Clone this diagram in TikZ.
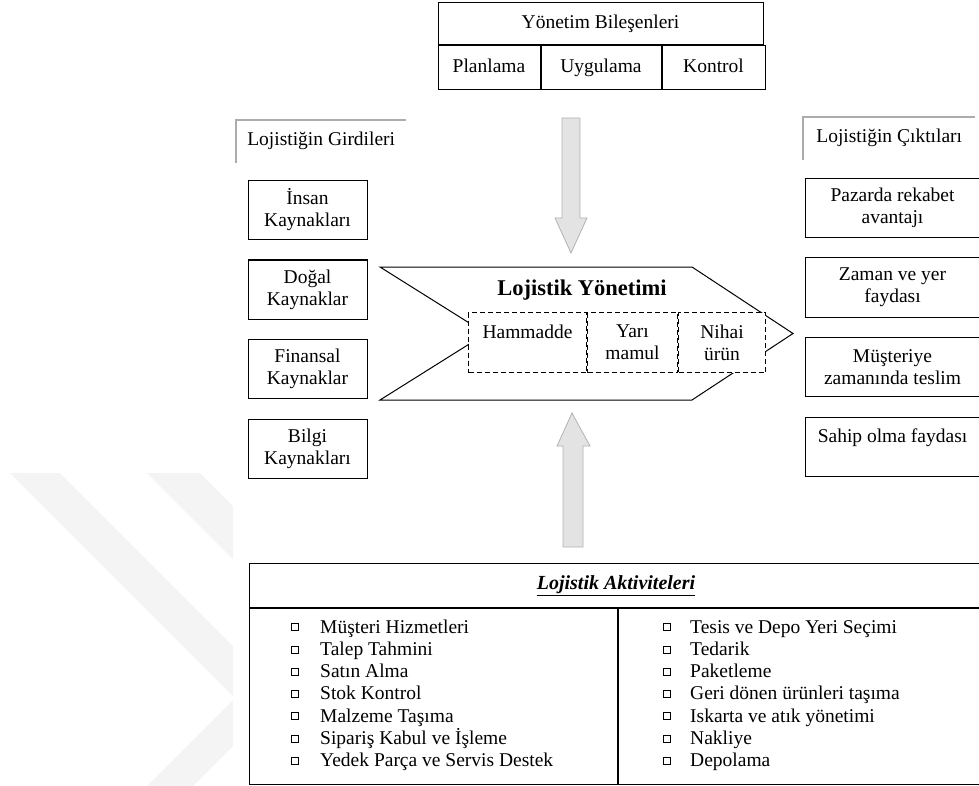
\documentclass[tikz,border=0pt]{standalone}
\usepackage{fontspec}
\setmainfont{Liberation Serif}
\usetikzlibrary{positioning}

\begin{document}
\begin{tikzpicture}[
    x = 1pt, y = -1pt,
    node distance = 19.5pt and 0pt,
    font = \fontsize{19.5}{22}\selectfont,
    kutu/.style = {rectangle, draw, line width=1pt, align=center, inner sep=2pt},
    tek/.style = {text height=13pt, text depth=4.5pt},
    girdi/.style = {kutu, minimum width=119pt, minimum height=59pt},
    cikti/.style = {kutu, minimum width=175pt, minimum height=59pt},
    kesik/.style = {kutu, dash pattern=on 5pt off 3pt, fill=white, minimum height=60pt},
    baslik/.style = {rectangle, anchor=north west, minimum width=170pt, minimum height=43pt},
    cerceve/.style = {gray!65, line width=2.5pt},
    ok/.style = {fill=gray!22, draw=gray!60, line width=0.8pt},
    kare/.style = {draw, line width=0.6pt, minimum size=7pt, inner sep=0pt},
    madde/.style = {anchor=base west, inner sep=0pt}
    ]

  \useasboundingbox (0,0) rectangle (979,786) ;

  % arka plan filigrani
  \begin{scope}
    \clip (0,0) rectangle (233,786) ;
    \fill[gray!9] (10,473) -- (60,473) -- (283,696) -- (193,786) -- (147,786) -- (235,698) -- cycle ;
    \fill[gray!9] (147,473) -- (200,473) -- (420,693) -- (367,693) -- cycle ;
  \end{scope}

  % yonetim bilesenleri
  \node[kutu, tek, minimum width=325pt, minimum height=42pt] (yonetim) at (600.5,24) {Yönetim Bileşenleri} ;
  \node[kutu, tek, minimum width=102pt, minimum height=44pt, anchor=north west] (plan) at (yonetim.south west) {Planlama} ;
  \node[kutu, tek, minimum width=120pt, minimum height=44pt] (uygulama) [right=of plan] {Uygulama} ;
  \node[kutu, tek, minimum width=103pt, minimum height=44pt] (kontrol) [right=of uygulama] {Kontrol} ;

  % girdiler
  \node[baslik, tek] (girdiler) at (236,120) {Lojistiğin Girdileri} ;
  \draw[cerceve] (girdiler.south west) |- (girdiler.north east) ;
  \node[girdi] (insan) at (307.5,210) {İnsan\\Kaynakları} ;
  \node[girdi] (dogal) [below=of insan] {Doğal\\Kaynaklar} ;
  \node[girdi] (finans) [below=of dogal] {Finansal\\Kaynaklar} ;
  \node[girdi] (bilgi) [below=of finans] {Bilgi\\Kaynakları} ;

  % ciktilar
  \node[baslik, tek, minimum width=172pt] (ciktilar) at (803,117) {Lojistiğin Çıktıları} ;
  \draw[cerceve] (ciktilar.south west) |- (ciktilar.north east) ;
  \node[cikti] (rekabet) at (892.5,208) {Pazarda rekabet\\avantajı} ;
  \node[cikti] (zaman) [below=of rekabet] {Zaman ve yer\\faydası} ;
  \node[cikti] (teslim) [below=of zaman] {Müşteriye\\zamanında teslim} ;
  \node[cikti] (sahip) [below=of teslim] {Sahip olma faydası\\\mbox{}} ;

  % lojistik yonetimi
  \draw[line width=1pt] (380,267) -- (692,267) -- (793,333.5) -- (692,400)
    -- (380,400) -- (486,333.5) -- cycle ;
  \node[font=\bfseries\fontsize{22.5}{26}\selectfont] (lojistik) at (582,290) {Lojistik Yönetimi} ;
  \node[kesik, minimum width=118pt, anchor=north west] (ham) at (468,312) {Hammadde\\\mbox{}} ;
  \node[kesik, minimum width=90pt] (yari) [right=of ham] {Yarı\\mamul} ;
  \node[kesik, minimum width=87pt] (nihai) [right=of yari] {Nihai\\ürün} ;

  % gri oklar
  \filldraw[ok] (562,118) -- (580,118) -- (580,218) -- (587,218) -- (571,253)
    -- (555,218) -- (562,218) -- cycle ;
  \filldraw[ok] (563,547) -- (583,547) -- (583,446) -- (590,446) -- (572,413)
    -- (557,446) -- (563,446) -- cycle ;

  % aktiviteler
  \node[kutu, tek, minimum width=733pt, minimum height=44pt, anchor=north west] (aktivite) at (249,563)
    {\fontsize{20}{22}\selectfont\bfseries\itshape\underline{Lojistik Aktiviteleri}} ;
  \node[kutu, minimum width=368pt, minimum height=176pt, anchor=north west] (sol) at (aktivite.south west) {} ;
  \node[kutu, minimum width=365pt, minimum height=176pt] (sag) [right=of sol] {} ;

  \foreach \t [count=\i] in {Müşteri Hizmetleri, Talep Tahmini, Satın Alma, Stok Kontrol,
      Malzeme Taşıma, Sipariş Kabul ve İşleme, Yedek Parça ve Servis Destek} {
    \node[kare] (solk\i) at (295,{627+22.3*(\i-1)}) {} ;
    \node[madde] (solm\i) at (320,{633+22.3*(\i-1)}) {\t} ;
  }
  \foreach \t [count=\i] in {Tesis ve Depo Yeri Seçimi, Tedarik, Paketleme,
      Geri dönen ürünleri taşıma, Iskarta ve atık yönetimi, Nakliye, Depolama} {
    \node[kare] (sagk\i) at (667,{627+22.3*(\i-1)}) {} ;
    \node[madde] (sagm\i) at (690,{633+22.3*(\i-1)}) {\t} ;
  }
\end{tikzpicture}
\end{document}
